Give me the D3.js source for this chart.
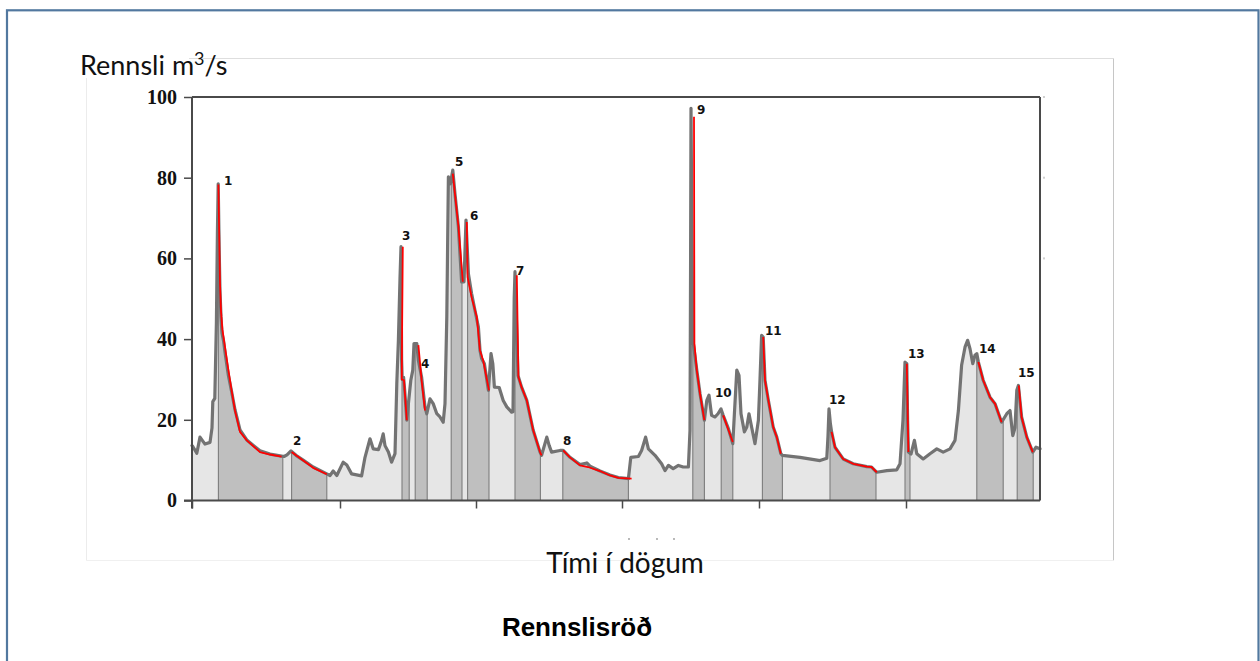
<!DOCTYPE html>
<html>
<head>
<meta charset="utf-8">
<script src="https://cdn.jsdelivr.net/npm/d3@7"></script>
<style>
  html, body { margin: 0; padding: 0; background: #fff; }
  svg { display: block; }
</style>
</head>
<body>
<svg id="chart" width="1260" height="661"></svg>
<script>
// Discharge series: [day, m3/s]
const flow = [
  [0, 13.6], [0.2, 13.4], [1.2, 11.7], [2.0, 15.7], [2.8, 14.6], [3.25, 14.0], [4.5, 14.4],
  [5.0, 18], [5.2, 24.5], [5.7, 25.3], [6.1, 44], [6.35, 66], [6.55, 78.5], [6.8, 62],
  [7.0, 52], [7.25, 45.5], [7.5, 41.5], [7.9, 39.5], [8.3, 36.4], [9.1, 31], [9.9, 27],
  [10.75, 22.5], [12, 17.5], [13.7, 15], [15.5, 13.5], [17, 12.3], [19.5, 11.5], [22.4, 11],
  [23.0, 10.9], [23.75, 11.3], [24.75, 12.3], [26.0, 11.2], [27.8, 10.0], [30.3, 8.3],
  [33.7, 6.6], [34.5, 6.2], [35.3, 7.3], [36.2, 6.2], [37.8, 9.5], [38.7, 8.8], [39.9, 6.6],
  [42.4, 6.1], [43.25, 10.7], [44.5, 15.3], [45.3, 12.8], [46.6, 12.6], [47.4, 14.9],
  [47.8, 16.5], [48.25, 13.6], [49.1, 12], [49.9, 9.5], [50.75, 11.6], [51.2, 29],
  [51.6, 39.7], [52.0, 55], [52.25, 62.9], [52.4, 35], [52.55, 30], [52.9, 30.5], [53.2, 27],
  [53.7, 19.9], [54.1, 24], [54.7, 29.8], [55.2, 32.3], [55.5, 38.9], [56.2, 38.9],
  [56.6, 34.7], [57.4, 30.6], [58.25, 23.2], [58.7, 21.5], [59.5, 25.2], [60.3, 24],
  [61.2, 21.5], [62, 20.7], [62.8, 19.4], [63.25, 24], [63.7, 45.5], [64.1, 80.2],
  [64.6, 78.5], [65.2, 81.9], [65.75, 76], [66.6, 67.8], [67.4, 54.2], [68.0, 54.2],
  [68.5, 69.5], [69.1, 56.2], [69.9, 51.3], [70.75, 47.1], [71.6, 43], [72, 37.2],
  [72.4, 35.2], [73.1, 33.9], [74.1, 27.3], [74.75, 36.4], [75.2, 33.9], [75.6, 28.1],
  [76.8, 28], [77.8, 24.8], [78.7, 23.2], [79.9, 21.9], [80.25, 22], [80.55, 50],
  [80.75, 56.7], [81.1, 45], [81.5, 31], [82.4, 28.1], [83.7, 24.8], [85.3, 17.4], [87, 12],
  [87.4, 11.2], [88.7, 15.7], [89.3, 13.6], [89.9, 12], [92, 12.4], [92.8, 12.4],
  [94.5, 10.7], [97, 8.9], [98.7, 9.3], [99.5, 8.5], [102, 7.3], [104.5, 6.3], [106.6, 5.7],
  [109.1, 5.4], [109.7, 10.7], [111.6, 10.9], [112.4, 12.4], [113.4, 15.7], [114.1, 12.8],
  [115.75, 11.2], [117.4, 9.1], [118.25, 7.4], [119.1, 8.7], [120.3, 7.9], [121.6, 8.7],
  [122.8, 8.3], [124.1, 8.3], [124.5, 17.4], [124.65, 60], [124.75, 97.2], [124.95, 70],
  [125.2, 40], [126.2, 32.3], [127, 26.5], [128.1, 19.9], [128.7, 24.8], [129.25, 26.1],
  [129.9, 21.1], [130.75, 20.7], [131.5, 21.5], [132.25, 22.7], [132.8, 21.1], [134.1, 17.8],
  [135.2, 14.1], [135.6, 21.5], [136.2, 32.3], [136.75, 31], [137.25, 21.5], [138.1, 17],
  [138.7, 18.2], [139.25, 21.5], [139.9, 18.2], [140.75, 14.1], [141.6, 19.9], [142, 30],
  [142.4, 40.9], [142.8, 40.5], [143.25, 29.8], [144.1, 24.8], [145.3, 18.2], [146.2, 15.7],
  [147.2, 11.6], [147.6, 11.2], [152, 10.7], [157, 9.9], [158.7, 10.5], [159.0, 16],
  [159.25, 22.7], [159.6, 19], [159.9, 17], [160.75, 13.2], [162.8, 10.3], [165.3, 9.1],
  [168.7, 8.4], [169.9, 8.3], [171.2, 7], [173.7, 7.4], [176.2, 7.6], [177, 9.1],
  [177.75, 20], [178.25, 34.3], [178.7, 33.9], [178.9, 20], [179.1, 12], [179.75, 11.5],
  [180.6, 14.9], [181.2, 11.6], [182.8, 10.3], [184.5, 11.6], [186.2, 12.8], [187.8, 12],
  [189.5, 12.8], [190.75, 14.9], [191.6, 22.3], [192.4, 33.5], [193.25, 38], [193.9, 39.7],
  [194.5, 37.6], [195.2, 33.9], [195.75, 36], [196.2, 36.4], [196.6, 34.3], [197.8, 29.8],
  [199.5, 25.6], [200.75, 24], [202.4, 19.4], [203.7, 21.5], [204.5, 22.3], [205.2, 16.1],
  [205.75, 18], [206.2, 27.3], [206.6, 28.5], [207.4, 20.7], [208.7, 15.7], [210.2, 12],
  [211, 13.2], [212, 12.8]
];

// Recession periods (day range) numbered 1-15
const recessionIds   = [1, 2, 3, 4, 5, 6, 7, 8, 9, 10, 11, 12, 13, 14, 15];
const recessionStart = [6.6, 24.9, 52.5, 55.8, 64.8, 68.9, 80.75, 92.7, 125.2, 132.3, 142.6, 159.5, 178.25, 196.2, 206.3];
const recessionEnd   = [22.7, 33.7, 54.3, 58.8, 67.5, 74.25, 87.1, 109.1, 128.1, 135.2, 147.6, 171, 179.5, 202.8, 210.3];

// Fitted recession curves [day, m3/s]
const recessionCurves = [
  [[6.6, 78.3], [6.8, 66], [7, 53.8], [7.25, 47], [7.6, 42.4], [8.25, 38], [9.1, 32.3], [9.9, 27.3], [10.75, 22.3], [12, 17], [13.7, 14.9], [17, 12], [19.5, 11.4], [22.4, 10.9]],
  [[24.9, 12], [27.8, 9.9], [30.3, 8.1], [33.7, 6.5]],
  [[52.7, 62.9], [52.5, 38.9], [52.45, 30], [53, 29.8], [53.7, 19.9]],
  [[56.6, 38.5], [57.4, 29.8], [58.25, 22.3]],
  [[65.2, 81], [66.6, 68], [67.7, 54.2]],
  [[68.7, 69], [68.9, 55.4], [69.9, 50.4], [71.2, 45.5], [72, 37.2], [72.8, 34.7], [74.25, 27.3]],
  [[81.2, 55.8], [81.6, 30.6], [82.4, 28.1], [83.7, 24.8], [85.3, 17.4], [87, 12], [87.4, 11.2]],
  [[92.8, 12.4], [94.5, 10.7], [97, 8.7], [99, 8.3], [102, 7.3], [104.5, 6.2], [106.6, 5.6], [109.9, 5.4]],
  [[125.5, 95.1], [125.6, 38.9], [126.2, 32.3], [127, 26.5], [128.1, 19.9]],
  [[132.8, 21.1], [135.2, 14.5]],
  [[142.8, 40.5], [143.25, 29.8], [144.1, 24.8], [145.3, 18.2], [146.2, 15.7], [147.2, 11.6]],
  [[159.9, 17], [160.75, 13.2], [162.8, 10.3], [165.3, 9.1], [168.7, 8.4], [169.9, 8.3], [171.2, 7]],
  [[178.7, 33.9], [179.1, 12]],
  [[196.6, 34.3], [197.8, 29.8], [199.5, 25.6], [200.75, 24], [202.4, 19.4]],
  [[206.7, 28.5], [207.4, 20.7], [208.7, 15.7], [210.2, 12]]
];

// Where each recession number is written [day, m3/s]
const labelAnchors = [
  [8, 78.3], [25.25, 13.8], [52.5, 64.6], [57.25, 32.9], [65.75, 82.8], [69.5, 69.6],
  [81, 56], [92.75, 13.8], [126.25, 95.7], [130.75, 25.7], [143.25, 41.1], [159.25, 24],
  [179, 35.4], [196.75, 36.6], [206.5, 30.6]
];

const yTicks = [0, 20, 40, 60, 80, 100];
const xTicks = [0, 37, 71, 107.5, 141.75, 178.5];

const xAxisTitle = "Tími í dögum";
const chartTitle = "Rennslisröð";

const svg = d3.select("#chart");
const defs = svg.append("defs");

const x = d3.scaleLinear().domain([0, 212]).range([192, 1040]);
const y = d3.scaleLinear().domain([0, 100]).range([500.5, 97]);

// Outer slide frame
svg.append("rect")
  .attr("x", 7).attr("y", 10.3).attr("width", 1251.5).attr("height", 700)
  .attr("fill", "none").attr("stroke", "#52789f").attr("stroke-width", 2.2);

// Embedded figure frame
const fr = { l: 86.5, t: 58.5, r: 1113.5, b: 560.5 };
svg.append("line").attr("x1", fr.l).attr("x2", fr.r).attr("y1", fr.t).attr("y2", fr.t).attr("stroke", "#dedede");
svg.append("line").attr("x1", fr.r).attr("x2", fr.r).attr("y1", fr.t).attr("y2", fr.b).attr("stroke", "#c6c6c6");
svg.append("line").attr("x1", fr.l).attr("x2", fr.r).attr("y1", fr.b).attr("y2", fr.b).attr("stroke", "#f0f0f0");
svg.append("line").attr("x1", fr.l).attr("x2", fr.l).attr("y1", fr.t).attr("y2", fr.b).attr("stroke", "#ececec");

const area = d3.area().x(d => x(d[0])).y0(y(0)).y1(d => y(d[1]));
const line = d3.line().x(d => x(d[0])).y(d => y(d[1]));

const bisect = d3.bisector(d => d[0]).left;
function flowAt(t) {
  const i = bisect(flow, t);
  if (i <= 0) return flow[0][1];
  if (i >= flow.length) return flow[flow.length - 1][1];
  const a = flow[i - 1], b = flow[i];
  return a[1] + (b[1] - a[1]) * (t - a[0]) / (b[0] - a[0]);
}

// Light fill under the whole hydrograph
svg.append("path").datum(flow).attr("d", area).attr("fill", "#e6e6e6");

// Darker fill for recession periods, with edge lines
const segG = svg.append("g");
recessionIds.forEach((id, i) => {
  const s = recessionStart[i], e = recessionEnd[i];
  const cid = "rec-clip-" + id;
  defs.append("clipPath").attr("id", cid).append("rect")
    .attr("x", x(s)).attr("y", y(100) - 5)
    .attr("width", x(e) - x(s)).attr("height", y(0) - y(100) + 10);
  segG.append("path").datum(flow).attr("d", area)
    .attr("fill", "#bfbfbf").attr("clip-path", `url(#${cid})`);
  [s, e].forEach(t => {
    segG.append("line")
      .attr("x1", x(t)).attr("x2", x(t))
      .attr("y1", y(0)).attr("y2", y(flowAt(t)))
      .attr("stroke", "#7d7d7d").attr("stroke-width", 1.1);
  });
});

// Hydrograph line
svg.append("path").datum(flow).attr("d", line)
  .attr("fill", "none").attr("stroke", "#737373").attr("stroke-width", 3.2)
  .attr("stroke-linejoin", "round").attr("stroke-linecap", "round");

// Recession curves
svg.append("g").selectAll("path").data(recessionCurves).join("path")
  .attr("d", line).attr("fill", "none")
  .attr("stroke", "#ff0000").attr("stroke-width", 1.8)
  .attr("stroke-linejoin", "round");

// Plot box: top and right edges
const axisColor = "#4a4a4a";
svg.append("line").attr("x1", x(0)).attr("x2", x(212)).attr("y1", y(100)).attr("y2", y(100))
  .attr("stroke", axisColor).attr("stroke-width", 2);
svg.append("line").attr("x1", x(212)).attr("x2", x(212)).attr("y1", y(100)).attr("y2", y(0))
  .attr("stroke", axisColor).attr("stroke-width", 2);

// Faint marks beside the right edge
svg.append("g").selectAll("rect").data([100, 80, 60]).join("rect")
  .attr("x", x(212) + 3).attr("y", d => y(d) - 1).attr("width", 2).attr("height", 2)
  .attr("fill", "#d0d0d0");

// Y axis
const yAxis = svg.append("g").attr("transform", `translate(${x(0)},0)`)
  .call(d3.axisLeft(y).tickValues(yTicks).tickSize(8).tickPadding(7).tickSizeOuter(0));
yAxis.select(".domain").remove();
yAxis.selectAll(".tick line").attr("stroke", axisColor).attr("stroke-width", 1.5);
yAxis.selectAll(".tick text")
  .attr("font-family", "'Liberation Serif', serif").attr("font-weight", "bold")
  .attr("font-size", 20).attr("fill", "#111");
svg.append("line").attr("x1", x(0)).attr("x2", x(0)).attr("y1", y(100)).attr("y2", y(0) + 8)
  .attr("stroke", axisColor).attr("stroke-width", 2);

// X axis
const xAxis = svg.append("g").attr("transform", `translate(0,${y(0)})`)
  .call(d3.axisBottom(x).tickValues(xTicks).tickSize(8).tickFormat("").tickSizeOuter(0));
xAxis.select(".domain").remove();
xAxis.selectAll(".tick line").attr("stroke", axisColor).attr("stroke-width", 1.5);
svg.append("line").attr("x1", x(0) - 8).attr("x2", x(212)).attr("y1", y(0)).attr("y2", y(0))
  .attr("stroke", axisColor).attr("stroke-width", 2);

// Recession numbers
svg.append("g").selectAll("text").data(recessionIds).join("text")
  .attr("x", (d, i) => x(labelAnchors[i][0]))
  .attr("y", (d, i) => y(labelAnchors[i][1]))
  .attr("font-family", "'DejaVu Sans', sans-serif").attr("font-weight", "bold")
  .attr("font-size", 12).attr("fill", "#111")
  .text(d => d);

// Y axis title with superscript unit
svg.append("rect").attr("x", 79).attr("y", 52).attr("width", 110).attr("height", 26).attr("fill", "#fff");
const yTitle = svg.append("text").attr("x", 80).attr("y", 75)
  .attr("font-family", "Lato, 'Open Sans', sans-serif").attr("font-size", 27).attr("fill", "#111");
yTitle.append("tspan").text("Rennsli m");
yTitle.append("tspan").attr("font-size", 18).attr("dy", -10).text("3");
yTitle.append("tspan").attr("dy", 10).text("/s");

svg.append("g").selectAll("circle").data([629, 657, 674]).join("circle")
  .attr("cx", d => d).attr("cy", 539).attr("r", 0.9).attr("fill", "#999");

svg.append("text").attr("x", 625).attr("y", 573).attr("text-anchor", "middle")
  .attr("font-family", "Lato, 'Open Sans', sans-serif").attr("font-size", 28).attr("fill", "#111")
  .text(xAxisTitle);

svg.append("text").attr("x", 577).attr("y", 636).attr("text-anchor", "middle")
  .attr("font-family", "'Liberation Sans', Arial, sans-serif").attr("font-weight", "bold")
  .attr("font-size", 26).attr("fill", "#000")
  .text(chartTitle);
</script>
</body>
</html>
